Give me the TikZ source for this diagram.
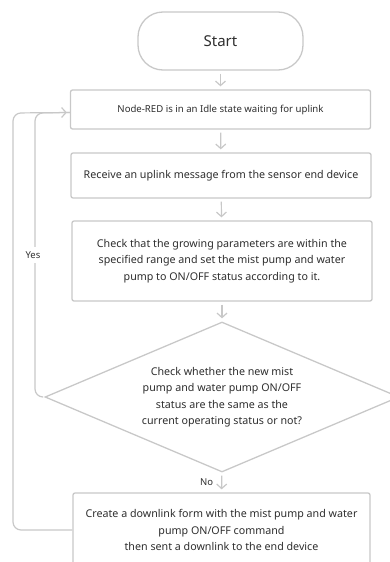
\documentclass[tikz,border=0pt]{standalone}
\usepackage{fontspec}
\setmainfont{Noto Sans}
\usetikzlibrary{arrows.meta,shapes.geometric,calc}
\definecolor{edge}{HTML}{C8C8C8}
\definecolor{ink}{HTML}{2E2E2E}
\begin{document}
\begin{tikzpicture}[x=1pt,y=-1pt,
  every node/.style={text=ink,font=\fontsize{10.7}{16.5}\selectfont},
  stepbox/.style={draw=edge,line width=1.3pt,rounded corners=2pt,
    minimum width=300pt,align=center,inner sep=0pt},
  startbox/.style={draw=edge,line width=1.3pt,rounded corners=25pt,
    minimum width=165pt,minimum height=58pt,font=\fontsize{15}{18}\selectfont},
  decision/.style={draw=edge,line width=1.3pt,diamond,minimum width=354pt,
    minimum height=150pt,inner sep=0pt,align=center,aspect=2.36},
  flow/.style={draw=edge,line width=1.2pt,
    -{Straight Barb[length=4.5pt,width=10pt,line width=1.2pt]},
    shorten <=3pt,shorten >=3pt},
  loop/.style={draw=edge,line width=1.2pt,rounded corners=8pt},
  tag/.style={fill=white,inner sep=2pt,font=\fontsize{9.5}{11}\selectfont}]
\useasboundingbox (0,0) rectangle (390,562);

\node[startbox] (start) at (220.5,41) {Start};
\node[stepbox,minimum height=39pt,font=\fontsize{9.6}{12}\selectfont] (idle) at (220.5,109.5)
  {Node-RED is in an Idle state waiting for uplink};
\node[stepbox,minimum height=45pt] (recv) at (221,175.5)
  {Receive an uplink message from the sensor end device};
\node[stepbox,minimum height=80pt] (check) at (222,261)
  {Check that the growing parameters are within the\\
   specified range and set the mist pump and water\\
   pump to ON/OFF status according to it.};
\node[decision] (same) at (222,397)
  {Check whether the new mist\\
   pump and water pump ON/OFF\\
   status are the same as the\\
   current operating status or not?};
\node[stepbox,minimum height=74pt,minimum width=297pt] (down) at (221.5,530)
  {Create a downlink form with the mist pump and water\\
   pump ON/OFF command\\
   then sent a downlink to the end device};

\coordinate (inner) at (35,113);
\coordinate (outer) at (13,113);
\coordinate (entry) at ($(idle.west)+(0,3)$);

\draw[flow] (start) -- (idle);
\draw[flow] (idle) -- (recv);
\draw[flow] (recv) -- (check);
\draw[flow] (check) -- (same);
\draw[flow] (same) -- node[left=6pt,tag,fill=none] {No} (down);

% "Yes" branch back to the idle state
\draw[loop,shorten <=2pt] (same.west) -| (inner) -- (entry);
\node[tag,inner ysep=5pt] (yes) at (33,255) {Yes};
% after sending the downlink, return to the idle state
\draw[loop] (down.west) -| (outer) -- (entry);
\draw[flow,shorten <=0pt] ($(entry)+(-12,0)$) -- (entry);
\end{tikzpicture}
\end{document}
